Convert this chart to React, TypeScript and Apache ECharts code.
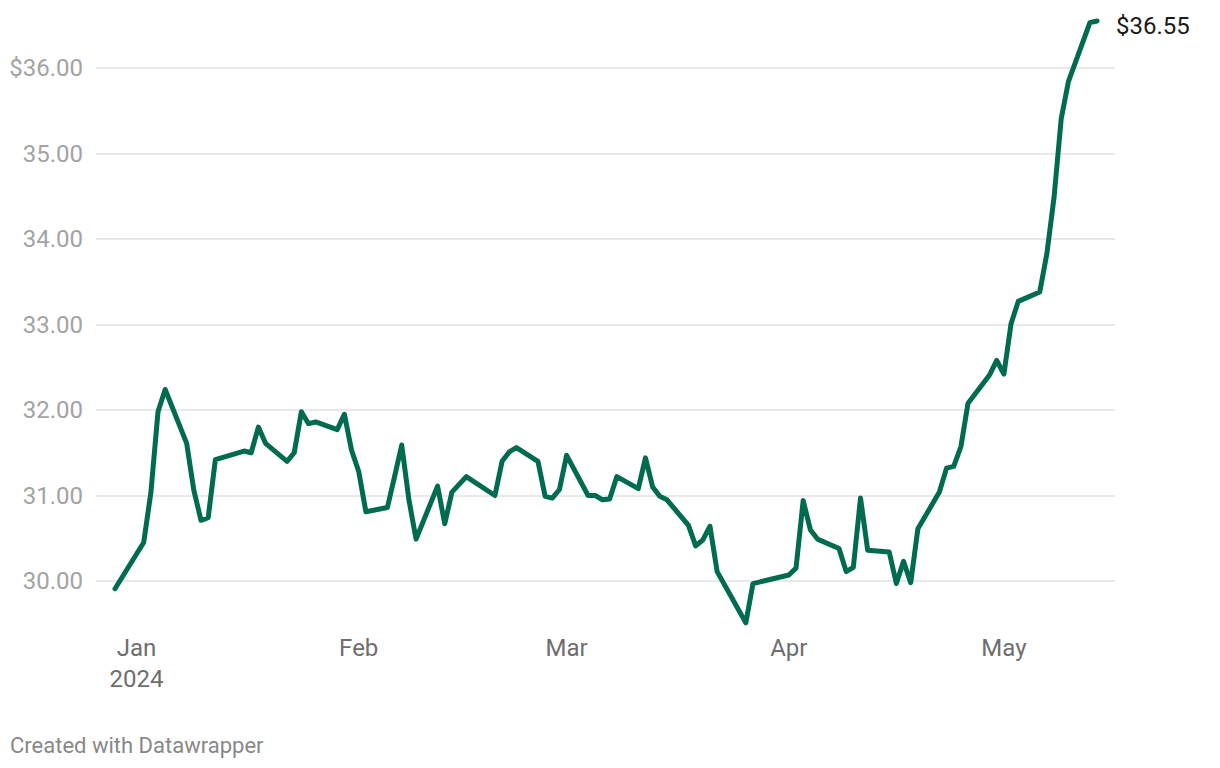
import React, { useEffect, useRef } from "react";
import * as echarts from "echarts";

const DATES: string[] = [
  "2023-12-29",
  "2024-01-02", "2024-01-03", "2024-01-04", "2024-01-05",
  "2024-01-08", "2024-01-09", "2024-01-10", "2024-01-11", "2024-01-12",
  "2024-01-16", "2024-01-17", "2024-01-18", "2024-01-19",
  "2024-01-22", "2024-01-23", "2024-01-24", "2024-01-25", "2024-01-26",
  "2024-01-29", "2024-01-30", "2024-01-31", "2024-02-01", "2024-02-02",
  "2024-02-05", "2024-02-06", "2024-02-07", "2024-02-08", "2024-02-09",
  "2024-02-12", "2024-02-13", "2024-02-14", "2024-02-15", "2024-02-16",
  "2024-02-20", "2024-02-21", "2024-02-22", "2024-02-23",
  "2024-02-26", "2024-02-27", "2024-02-28", "2024-02-29", "2024-03-01",
  "2024-03-04", "2024-03-05", "2024-03-06", "2024-03-07", "2024-03-08",
  "2024-03-11", "2024-03-12", "2024-03-13", "2024-03-14", "2024-03-15",
  "2024-03-18", "2024-03-19", "2024-03-20", "2024-03-21", "2024-03-22",
  "2024-03-25", "2024-03-26", "2024-03-27", "2024-03-28",
  "2024-04-01", "2024-04-02", "2024-04-03", "2024-04-04", "2024-04-05",
  "2024-04-08", "2024-04-09", "2024-04-10", "2024-04-11", "2024-04-12",
  "2024-04-15", "2024-04-16", "2024-04-17", "2024-04-18", "2024-04-19",
  "2024-04-22", "2024-04-23", "2024-04-24", "2024-04-25", "2024-04-26",
  "2024-04-29", "2024-04-30", "2024-05-01", "2024-05-02", "2024-05-03",
  "2024-05-06", "2024-05-07", "2024-05-08", "2024-05-09", "2024-05-10",
  "2024-05-13", "2024-05-14",
];

const PRICES: number[] = [
  29.91,
  30.45, 31.03, 31.98, 32.24,
  31.61, 31.06, 30.71, 30.74, 31.42,
  31.52, 31.50, 31.80, 31.61,
  31.40, 31.50, 31.98, 31.84, 31.86,
  31.77, 31.95, 31.53, 31.28, 30.81,
  30.86, 31.22, 31.59, 30.95, 30.49,
  31.11, 30.67, 31.04, 31.13, 31.22,
  31.00, 31.40, 31.51, 31.56,
  31.40, 30.99, 30.97, 31.07, 31.47,
  31.00, 31.00, 30.95, 30.96, 31.22,
  31.08, 31.44, 31.10, 30.99, 30.95,
  30.65, 30.41, 30.48, 30.64, 30.11,
  29.66, 29.51, 29.97, 29.99,
  30.07, 30.15, 30.94, 30.60, 30.49,
  30.38, 30.11, 30.16, 30.97, 30.36,
  30.34, 29.97, 30.23, 29.98, 30.61,
  31.04, 31.32, 31.34, 31.57, 32.08,
  32.41, 32.58, 32.42, 33.01, 33.27,
  33.38, 33.83, 34.49, 35.41, 35.84,
  36.53, 36.55,
];

const Y_TICKS: number[] = [30, 31, 32, 33, 34, 35, 36];
const MONTH_TICKS: string[] = ["2024-01-01", "2024-02-01", "2024-03-01", "2024-04-01", "2024-05-01"];
const MONTH_LABELS: string[] = ["Jan\n2024", "Feb", "Mar", "Apr", "May"];

const BASE = Date.parse("2024-01-01T00:00:00Z");
const dayNum = (d: string) => (Date.parse(d + "T00:00:00Z") - BASE) / 86400000;

export default function App() {
  const ref = useRef<HTMLDivElement>(null);
  useEffect(() => {
    document.body.style.margin = "0";
    if (!ref.current) return;
    const chart = echarts.init(ref.current, undefined, { renderer: "svg" });
    const monthVals = MONTH_TICKS.map(dayNum);
    const data = DATES.map((d, i) => [dayNum(d), PRICES[i]]);
    const last = PRICES[PRICES.length - 1];
    chart.setOption({
      animation: false,
      backgroundColor: "#ffffff",
      textStyle: { fontFamily: "Roboto" },
      grid: { left: 96, right: 105, top: 16.7, bottom: 135.7, containLabel: false },
      xAxis: {
        type: "value",
        min: -5.65,
        max: 136.5,
        axisLine: { show: false },
        axisTick: { show: false, customValues: monthVals },
        splitLine: { show: false },
        axisLabel: {
          customValues: monthVals,
          formatter: (v: number) => {
            const idx = monthVals.findIndex((m) => Math.abs(m - v) < 0.01);
            return idx >= 0 ? MONTH_LABELS[idx] : "";
          },
          color: "#6e6e6e",
          fontSize: 24,
          lineHeight: 31,
          margin: 0,
          fontFamily: "Roboto",
        },
      },
      yAxis: {
        type: "value",
        min: 29.4,
        max: 36.6,
        axisLine: { show: false },
        axisTick: { show: false, customValues: Y_TICKS },
        splitLine: { show: true, lineStyle: { color: "#e2e2e2", width: 1.5 } },
        axisLabel: {
          customValues: Y_TICKS,
          formatter: (v: number) => (v === 36 ? "$" : "") + v.toFixed(2),
          color: "#a3a3a3",
          fontSize: 24,
          margin: 13,
          fontFamily: "Roboto",
        },
      },
      series: [
        {
          type: "line",
          data,
          showSymbol: false,
          symbol: "none",
          lineStyle: { color: "#006b4f", width: 5, cap: "round", join: "round" },
          endLabel: {
            show: true,
            formatter: () => "$" + last.toFixed(2),
            color: "#1a1a1a",
            fontSize: 24,
            fontFamily: "Roboto",
            distance: 19,
            offset: [0, 5],
          },
          silent: true,
        },
      ],
      graphic: [
        {
          type: "text",
          left: 10,
          top: 734,
          style: {
            text: "Created with Datawrapper",
            fill: "#888888",
            fontSize: 22,
            fontFamily: "Roboto",
          },
        },
      ],
    });
    return () => chart.dispose();
  }, []);
  return <div ref={ref} style={{ width: 1220, height: 768 }} />;
}
